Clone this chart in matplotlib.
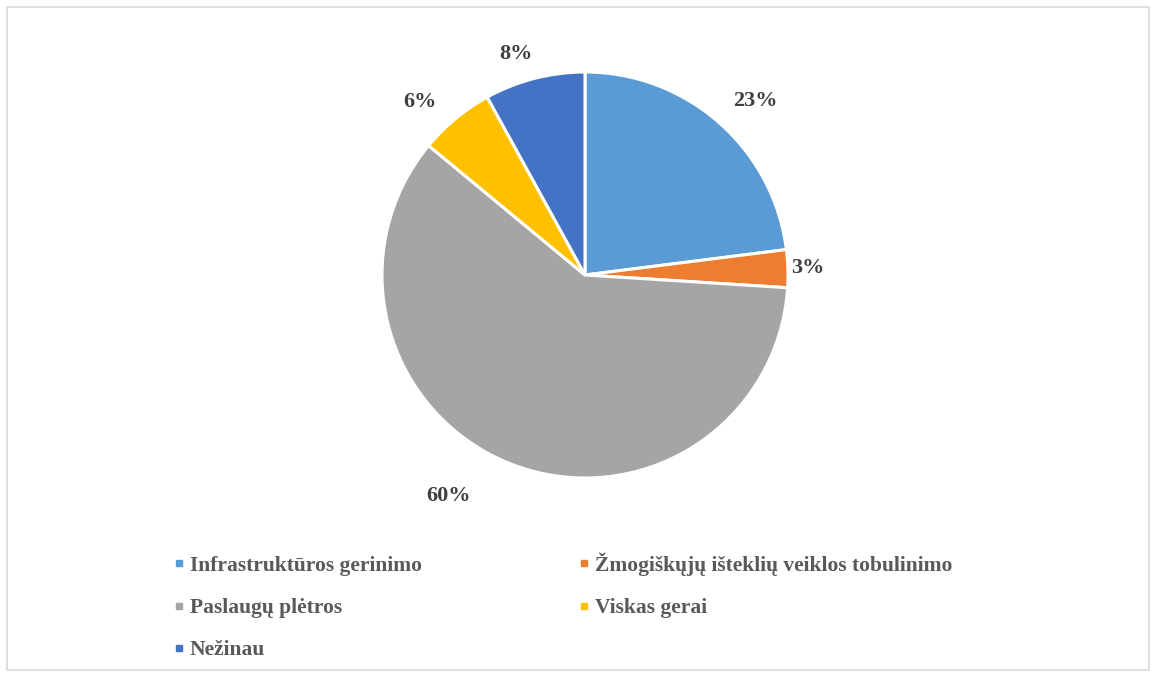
import numpy as np
import matplotlib.pyplot as plt
from matplotlib.lines import Line2D
from matplotlib.patches import Rectangle

categories = ["Infrastruktūros gerinimo", "Žmogiškųjų išteklių veiklos tobulinimo",
              "Paslaugų plėtros", "Viskas gerai", "Nežinau"]
values = [23, 3, 60, 6, 8]
colors = ["#5B9BD5", "#ED7D31", "#A5A5A5", "#FFC000", "#4472C4"]

# label placement: angle shift (deg) and distance (in radii) from the wedge middle
label_shift = [-3, 0, -10, 4, 3]
label_dist = [1.2, 1.1, 1.28, 1.18, 1.14]

plt.rcParams['font.family'] = ['Liberation Serif', 'DejaVu Serif']

W, H = 1156, 677
fig = plt.figure(figsize=(W / 100, H / 100), dpi=100)
fig.patches.append(Rectangle((7 / W, 7 / H), (W - 14) / W, (H - 14) / H,
                             transform=fig.transFigure, fill=False,
                             edgecolor="#D9D9D9", linewidth=1.2))

cx, cy, r = 585, 677 - 275, 203
ax = fig.add_axes([(cx - r) / W, (cy - r) / H, 2 * r / W, 2 * r / H])
wedges, _ = ax.pie(values, colors=colors, startangle=90, counterclock=False,
                   wedgeprops=dict(edgecolor="white", linewidth=2.2))
ax.set_xlim(-1, 1)
ax.set_ylim(-1, 1)
ax.set_aspect("equal")
ax.axis("off")

for w, v, s, d in zip(wedges, values, label_shift, label_dist):
    mid = np.deg2rad((w.theta1 + w.theta2) / 2 + s)
    ax.text(d * np.cos(mid), d * np.sin(mid), f"{v}%", ha="center", va="center",
            fontsize=16, fontweight="bold", color="#404040", clip_on=False)

order = [0, 2, 4, 1, 3]
handles = [Line2D([], [], marker="s", linestyle="", markersize=5,
                  color=colors[i]) for i in order]
labels = [categories[i] for i in order]
fig.legend(handles, labels, loc="upper left", bbox_to_anchor=(154 / W, 1 - 533 / H),
           ncol=2, frameon=False, handlelength=0.5, handletextpad=0.25,
           labelspacing=1.03, columnspacing=7.3, labelcolor="#595959",
           prop=dict(weight="bold", size=15.5))

fig.savefig("out.png", dpi=100)
